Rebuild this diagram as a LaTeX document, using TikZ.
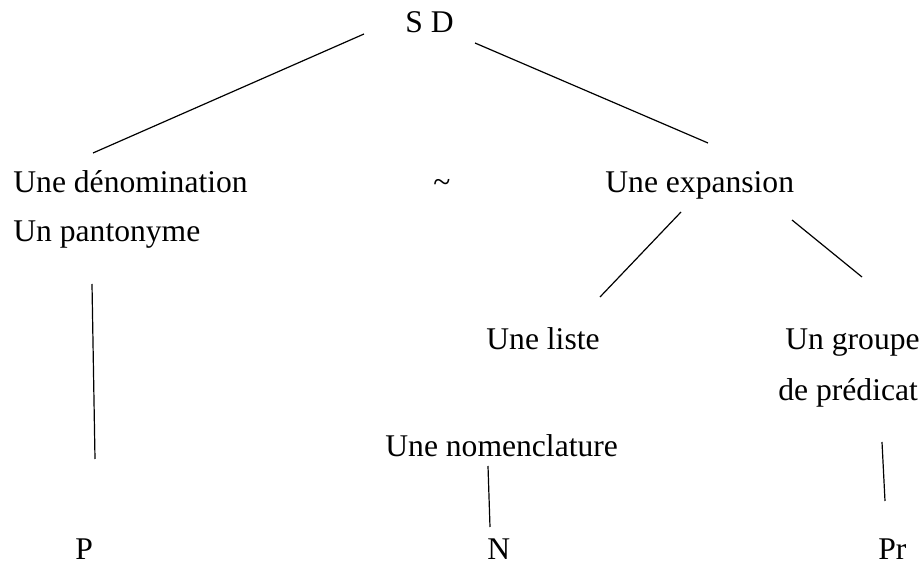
\documentclass[tikz,border=0pt]{standalone}
\usepackage{fontspec}
\setmainfont{Liberation Serif}
\usetikzlibrary{positioning}
\tikzset{lbl/.style={inner sep=0pt,anchor=base west,font=\fontsize{15.8}{19}\selectfont},
	branch/.style={line width=0.6pt}}
\begin{document}
\begin{tikzpicture}[x=0.5pt,y=-0.5pt]
		\useasboundingbox (0,0) rectangle (922,566);
		\begin{scope}[every node/.style={lbl}]
			\node (sd) at (405,33) {S D};
			\node (den) at (13,193) {Une dénomination};
			\node (pan) at (13,242) {Un pantonyme};
			\node (tld) at (433,193) {\textasciitilde};
			\node (exp) at (605,193) {Une expansion};
			\node (lst) at (486,350) {Une liste};
			\node (grp) at (785,350) {Un groupe};
			\node (pred) at (778,401) {de prédicat};
			\node (nom) at (385,457) {Une nomenclature};
			\node (p) at (75,560) {P};
			\node (n) at (487,560) {N};
			\node (pr) at (878,560) {Pr};
		\end{scope}
		% free ends of the branches
		\coordinate (sdl) at (364,34);   \coordinate (denr) at (93,153);
		\coordinate (sdr) at (475,43);   \coordinate (expl) at (708,143);
		\coordinate (expa) at (681,212); \coordinate (lstb) at (600,297);
		\coordinate (expb) at (792,220); \coordinate (grpb) at (862,277);
		\coordinate (pana) at (92,284);  \coordinate (pb) at (95,459);
		\coordinate (noma) at (488,466); \coordinate (nb) at (490,527);
		\coordinate (preda) at (882,442); \coordinate (prb) at (885,501);
		\begin{scope}[every path/.style={branch}]
			\draw (sdl) -- (denr);
			\draw (sdr) -- (expl);
			\draw (expa) -- (lstb);
			\draw (expb) -- (grpb);
			\draw (pana) -- (pb);
			\draw (noma) -- (nb);
			\draw (preda) -- (prb);
		\end{scope}
	\end{tikzpicture}
\end{document}
